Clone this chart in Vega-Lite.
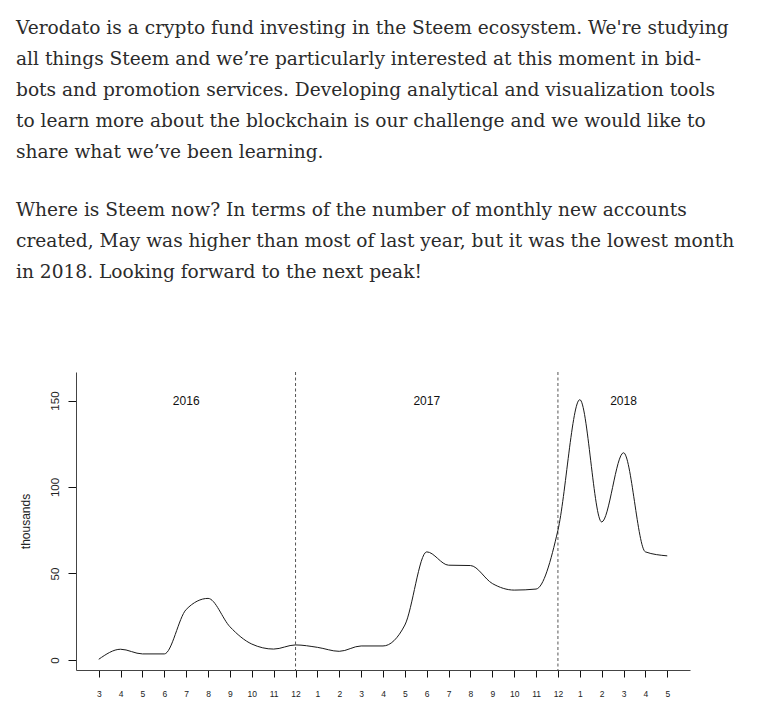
{
  "$schema": "https://vega.github.io/schema/vega-lite/v6.json",
  "width": 614,
  "height": 298,
  "autosize": {"type": "none"},
  "padding": {"left": 76, "top": 372, "right": 72, "bottom": 53},
  "background": "white",
  "title": {
    "text": [
      "Verodato is a crypto fund investing in the Steem ecosystem. We're studying",
      "all things Steem and we’re particularly interested at this moment in bid-",
      "bots and promotion services. Developing analytical and visualization tools",
      "to learn more about the blockchain is our challenge and we would like to",
      "share what we’ve been learning."
    ],
    "subtitle": [
      "Where is Steem now? In terms of the number of monthly new accounts",
      "created, May was higher than most of last year, but it was the lowest month",
      "in 2018. Looking forward to the next peak!"
    ],
    "anchor": "start",
    "frame": "group",
    "dx": -60,
    "font": "DejaVu Serif",
    "fontSize": 18.6,
    "fontWeight": "normal",
    "color": "#2b2b2b",
    "lineHeight": 31,
    "subtitleFont": "DejaVu Serif",
    "subtitleFontSize": 18.6,
    "subtitleFontWeight": "normal",
    "subtitleColor": "#2b2b2b",
    "subtitleLineHeight": 31,
    "subtitlePadding": 39,
    "offset": 90
  },
  "datasets": {
    "accounts": [
      {"i": 0, "year": 2016, "month": 3, "v": 0.4},
      {"i": 1, "year": 2016, "month": 4, "v": 6.2},
      {"i": 2, "year": 2016, "month": 5, "v": 3.5},
      {"i": 3, "year": 2016, "month": 6, "v": 3.5},
      {"i": 4, "year": 2016, "month": 7, "v": 29.2},
      {"i": 5, "year": 2016, "month": 8, "v": 35.6},
      {"i": 6, "year": 2016, "month": 9, "v": 19.2},
      {"i": 7, "year": 2016, "month": 10, "v": 9.2},
      {"i": 8, "year": 2016, "month": 11, "v": 6.3},
      {"i": 9, "year": 2016, "month": 12, "v": 8.7},
      {"i": 10, "year": 2017, "month": 1, "v": 7.3},
      {"i": 11, "year": 2017, "month": 2, "v": 5.0},
      {"i": 12, "year": 2017, "month": 3, "v": 8.1},
      {"i": 13, "year": 2017, "month": 4, "v": 8.1},
      {"i": 14, "year": 2017, "month": 5, "v": 20.2},
      {"i": 15, "year": 2017, "month": 6, "v": 62.5},
      {"i": 16, "year": 2017, "month": 7, "v": 54.8},
      {"i": 17, "year": 2017, "month": 8, "v": 54.6},
      {"i": 18, "year": 2017, "month": 9, "v": 44.2},
      {"i": 19, "year": 2017, "month": 10, "v": 40.4},
      {"i": 20, "year": 2017, "month": 11, "v": 41.0},
      {"i": 21, "year": 2017, "month": 12, "v": 75.0},
      {"i": 22, "year": 2018, "month": 1, "v": 150.5},
      {"i": 23, "year": 2018, "month": 2, "v": 79.8},
      {"i": 24, "year": 2018, "month": 3, "v": 119.8},
      {"i": 25, "year": 2018, "month": 4, "v": 62.5},
      {"i": 26, "year": 2018, "month": 5, "v": 60.2}
    ],
    "years": [
      {"i": 4, "v": 150, "label": "2016"},
      {"i": 15, "v": 150, "label": "2017"},
      {"i": 24, "v": 150, "label": "2018"}
    ],
    "dividers": [
      {"i": 9},
      {"i": 21}
    ]
  },
  "encoding": {
    "x": {
      "field": "i",
      "type": "quantitative",
      "scale": {"domain": [-1.04, 27.04], "nice": false, "zero": false},
      "axis": {
        "title": null,
        "values": [0,1,2,3,4,5,6,7,8,9,10,11,12,13,14,15,16,17,18,19,20,21,22,23,24,25,26],
        "labelExpr": "['3','4','5','6','7','8','9','10','11','12','1','2','3','4','5','6','7','8','9','10','11','12','1','2','3','4','5'][datum.value]",
        "grid": false,
        "domainColor": "#444444",
        "domainWidth": 1,
        "tickColor": "#111111",
        "tickSize": 7,
        "tickWidth": 1,
        "labelFont": "Liberation Sans",
        "labelFontSize": 8.5,
        "labelColor": "#222222",
        "labelPadding": 12,
        "labelBaseline": "top",
        "labelAlign": "center",
        "labelAngle": 0,
        "labelOverlap": false,
        "labelFlush": false
      }
    }
  },
  "layer": [
    {
      "data": {"name": "dividers"},
      "mark": {"type": "rule", "color": "#555555", "strokeWidth": 1, "strokeDash": [3, 2.5]}
    },
    {
      "data": {"name": "accounts"},
      "mark": {"type": "line", "color": "#1a1a1a", "strokeWidth": 1, "interpolate": "monotone"},
      "encoding": {
        "y": {
          "field": "v",
          "type": "quantitative",
          "scale": {"domain": [-5.8, 166.5], "nice": false, "zero": false},
          "axis": {
            "title": "thousands",
            "values": [0, 50, 100, 150],
            "grid": false,
            "domainColor": "#444444",
            "domainWidth": 1,
            "tickColor": "#111111",
            "tickSize": 8,
            "tickWidth": 1,
            "labelFont": "Liberation Sans",
            "labelFontSize": 11.5,
            "labelColor": "#222222",
            "labelAngle": -90,
            "labelAlign": "center",
            "labelBaseline": "alphabetic",
            "labelPadding": 10,
            "labelFlush": false,
            "labelOverlap": false,
            "titleFont": "Liberation Sans",
            "titleFontSize": 12,
            "titleFontWeight": "normal",
            "titleColor": "#222222",
            "titleAngle": -90,
            "titleAlign": "center",
            "titleBaseline": "alphabetic",
            "titleX": -47,
            "titleY": 149
          }
        }
      }
    },
    {
      "data": {"name": "years"},
      "mark": {"type": "text", "font": "Liberation Sans", "fontSize": 12, "color": "#111111", "baseline": "middle", "align": "center"},
      "encoding": {
        "y": {
          "field": "v",
          "type": "quantitative",
          "scale": {"domain": [-5.8, 166.5], "nice": false, "zero": false},
          "axis": {
            "title": "thousands",
            "values": [0, 50, 100, 150],
            "grid": false,
            "domainColor": "#444444",
            "domainWidth": 1,
            "tickColor": "#111111",
            "tickSize": 8,
            "tickWidth": 1,
            "labelFont": "Liberation Sans",
            "labelFontSize": 11.5,
            "labelColor": "#222222",
            "labelAngle": -90,
            "labelAlign": "center",
            "labelBaseline": "alphabetic",
            "labelPadding": 10,
            "labelFlush": false,
            "labelOverlap": false,
            "titleFont": "Liberation Sans",
            "titleFontSize": 12,
            "titleFontWeight": "normal",
            "titleColor": "#222222",
            "titleAngle": -90,
            "titleAlign": "center",
            "titleBaseline": "alphabetic",
            "titleX": -47,
            "titleY": 149
          }
        },
        "text": {"field": "label"}
      }
    }
  ],
  "config": {
    "view": {"stroke": null}
  }
}
